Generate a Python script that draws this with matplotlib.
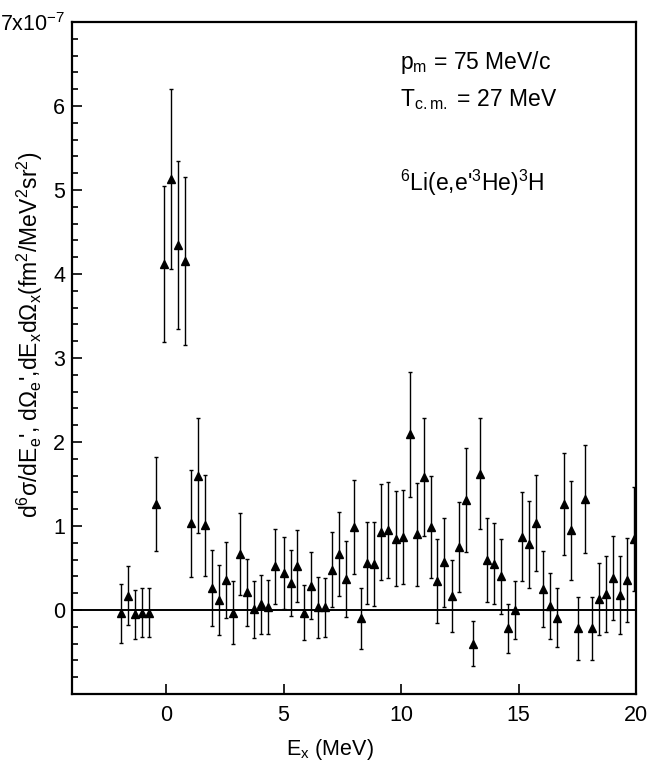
import matplotlib
matplotlib.use("Agg")
import matplotlib.pyplot as plt
from matplotlib.ticker import MultipleLocator, FixedLocator, FixedFormatter

plt.rcParams['font.family'] = ['Liberation Sans', 'DejaVu Sans']
plt.rcParams['mathtext.fontset'] = 'custom'
plt.rcParams['mathtext.rm'] = 'Liberation Sans'
plt.rcParams['mathtext.it'] = 'Liberation Sans'
plt.rcParams['mathtext.bf'] = 'Liberation Sans:bold'
plt.rcParams['mathtext.default'] = 'regular'

# Data (cross section in units of 1e-7 fm^2/MeV^2 sr^2)
ex = [-1.92, -1.62, -1.33, -1.03, -0.73, -0.42, -0.08, 0.21, 0.51, 0.82,
      1.06, 1.36, 1.65, 1.95, 2.26, 2.54, 2.85, 3.15, 3.45, 3.74,
      4.04, 4.35, 4.65, 5.00, 5.30, 5.59, 5.89, 6.19, 6.48, 6.78,
      7.08, 7.37, 7.67, 7.98, 8.28, 8.57, 8.87, 9.17, 9.46, 9.77,
      10.07, 10.37, 10.66, 10.96, 11.26, 11.55, 11.85, 12.15, 12.46, 12.75,
      13.06, 13.36, 13.66, 13.95, 14.25, 14.55, 14.84, 15.14, 15.44, 15.75,
      16.05, 16.34, 16.64, 16.94, 17.23, 17.54, 17.84, 18.14, 18.43, 18.73,
      19.03, 19.32, 19.62, 19.92]
sigma = [-0.04, 0.17, -0.05, -0.03, -0.03, 1.26, 4.12, 5.13, 4.35, 4.16,
         1.03, 1.60, 1.01, 0.26, 0.12, 0.36, -0.03, 0.67, 0.21, 0.01,
         0.07, 0.04, 0.52, 0.44, 0.32, 0.52, -0.03, 0.29, 0.03, 0.03,
         0.48, 0.67, 0.37, 0.99, -0.10, 0.56, 0.55, 0.93, 0.95, 0.85,
         0.87, 2.09, 0.90, 1.58, 0.99, 0.35, 0.57, 0.17, 0.75, 1.31,
         -0.40, 1.62, 0.59, 0.55, 0.40, -0.22, 0.00, 0.87, 0.78, 1.04,
         0.25, 0.05, -0.09, 1.26, 0.95, -0.22, 1.32, -0.22, 0.13, 0.19,
         0.38, 0.18, 0.36, 0.85]
err = [0.35, 0.35, 0.29, 0.29, 0.29, 0.56, 0.93, 1.07, 1.00, 1.00,
       0.64, 0.68, 0.60, 0.45, 0.42, 0.45, 0.37, 0.49, 0.40, 0.34,
       0.35, 0.32, 0.45, 0.43, 0.39, 0.43, 0.33, 0.40, 0.36, 0.35,
       0.45, 0.50, 0.45, 0.56, 0.36, 0.49, 0.50, 0.57, 0.57, 0.57,
       0.56, 0.74, 0.61, 0.70, 0.61, 0.50, 0.53, 0.43, 0.53, 0.62,
       0.27, 0.66, 0.50, 0.48, 0.45, 0.29, 0.35, 0.53, 0.52, 0.57,
       0.45, 0.39, 0.35, 0.61, 0.59, 0.37, 0.64, 0.37, 0.43, 0.45,
       0.50, 0.46, 0.50, 0.62]

x_ticks = [0, 5, 10, 15, 20]
y_ticks = [0, 1, 2, 3, 4, 5, 6, 7]
y_ticklabels = ['0', '1', '2', '3', '4', '5', '6', r'7x10$^{-7}$']

fig = plt.figure(figsize=(6.47, 7.71), dpi=100)
ax = fig.add_axes([72/647, 77/771, 564/647, 672/771])

ax.axhline(0, color='black', lw=1.4, zorder=1)
ax.errorbar(ex, sigma, yerr=err, fmt='^', color='black', ms=5.5,
            elinewidth=1.0, capsize=1.2, capthick=1.0, zorder=3)

ax.set_xlim(-4, 20)
ax.set_ylim(-1, 7)
ax.xaxis.set_major_locator(FixedLocator(x_ticks))
ax.yaxis.set_major_locator(FixedLocator(y_ticks))
ax.yaxis.set_major_formatter(FixedFormatter(y_ticklabels))
ax.yaxis.set_minor_locator(MultipleLocator(0.2))

for s in ax.spines.values():
    s.set_linewidth(1.6)
ax.tick_params(which='both', direction='in', width=1.2, labelsize=15.5)
ax.tick_params(which='major', length=7)
ax.tick_params(which='minor', length=4)
ax.tick_params(axis='x', pad=8)
ax.tick_params(axis='y', pad=5)

ax.set_xlabel(r'E$_x$ (MeV)', fontsize=15.5)
ax.xaxis.set_label_coords(0.457, -0.064)
ax.set_ylabel(r"d$^6$σ/dE$_e$', dΩ$_e$',dE$_x$dΩ$_x$(fm$^2$/MeV$^2$sr$^2$)",
              fontsize=16.5)
ax.yaxis.set_label_coords(-0.047, 0.535)

fig.text(0.619, 0.911, r'p$_m$ = 75 MeV/c', fontsize=16.5, va='baseline')
fig.text(0.619, 0.862, r'T$_{c.m.}$ = 27 MeV', fontsize=16.5, va='baseline')
fig.text(0.619, 0.753, r"$^6$Li(e,e'$^3$He)$^3$H", fontsize=16.5, va='baseline')

fig.savefig('out.png', dpi=100)
